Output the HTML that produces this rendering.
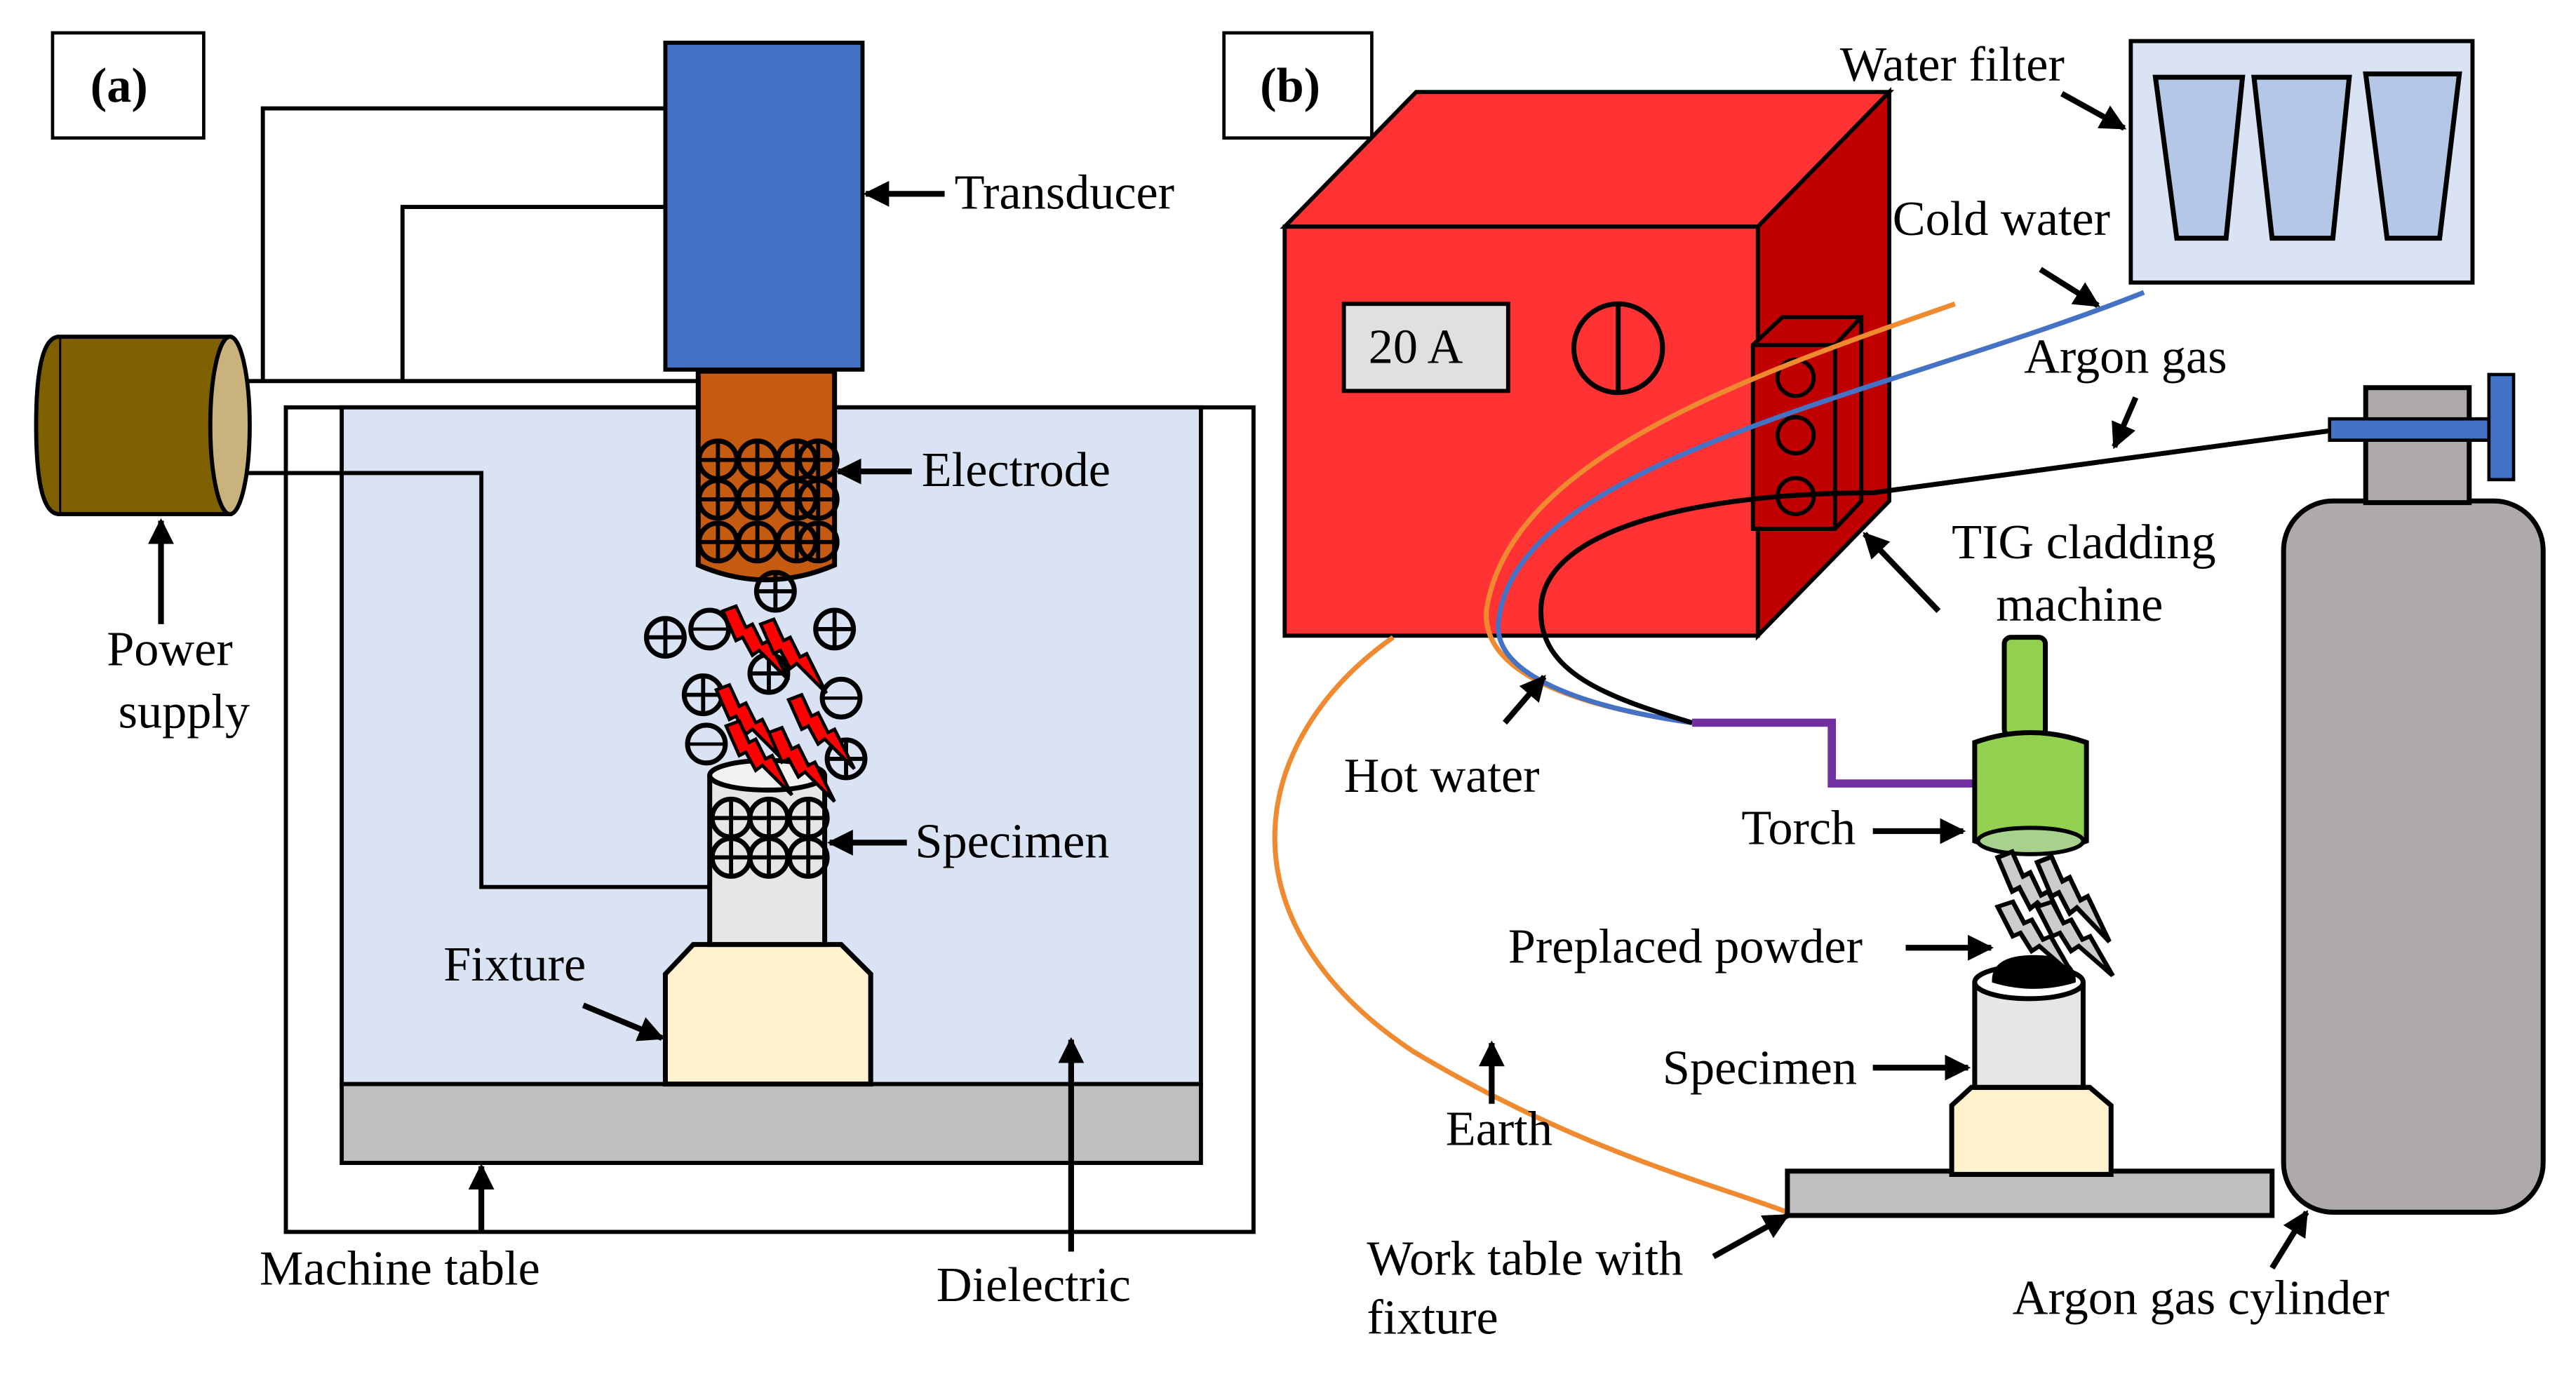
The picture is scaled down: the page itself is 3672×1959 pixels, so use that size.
<!DOCTYPE html>
<html><head><meta charset="utf-8"><style>
html,body{margin:0;padding:0;background:#fff;}
svg{display:block;}
svg text{font-family:"Liberation Serif","DejaVu Serif",serif;}
</style></head><body>
<svg width="3672" height="1959" viewBox="0 0 1568 836.5" xmlns="http://www.w3.org/2000/svg" font-size="30">
<defs>
<marker id="ah" viewBox="0 0 10 10" refX="9" refY="5" markerWidth="4.5" markerHeight="4.5" orient="auto-start-reverse"><path d="M0,0 L10,5 L0,10 z" fill="#000"/></marker>
<g id="pl"><circle r="11.5" fill="none" stroke="#000" stroke-width="3"/><path d="M-11,0H11M0,-11V11" stroke="#000" stroke-width="2.5"/></g>
<g id="mi"><circle r="11.5" fill="none" stroke="#000" stroke-width="3"/><path d="M-11,0H11" stroke="#000" stroke-width="2"/></g>
<g id="bolt"><path d="M0,0 L8,-3 L14,10 L18,8 L24,20 L28,18 L40,42 L22,24 L18,27 L12,16 L8,18 z" fill="#f00" stroke="#000" stroke-width="2"/></g>
<g id="gbolt"><path d="M0,0 L8,-3 L14,10 L18,8 L24,20 L28,18 L40,42 L22,24 L18,27 L12,16 L8,18 z" fill="#ccc" stroke="#000" stroke-width="2.5"/></g>
</defs>
<g stroke="#000" stroke-width="2.5">
<rect x="32" y="20" width="92" height="64" fill="#fff" stroke-width="2"/>
<rect x="174" y="248" width="589" height="502" fill="#fff"/>
<rect x="208" y="248" width="523" height="412" fill="#DAE3F3"/>
<rect x="208" y="660" width="523" height="48" fill="#BFBFBF"/>
<polyline points="160,232 160,66 405,66" fill="none"/>
<polyline points="245,232 245,126 405,126" fill="none"/>
<line x1="148" y1="232" x2="425" y2="232"/>
<polyline points="145,288 293,288 293,540 432,540" fill="none"/>
<rect x="405" y="26" width="120" height="199" fill="#4472C4"/>
<path d="M425,226 H508 V344 Q466,362 425,344 Z" fill="#C55A11" stroke-width="3"/>
<rect x="36" y="205" width="104" height="108" fill="#7F6000"/>
<path d="M36,205 Q22,205 22,259 Q22,313 36,313" fill="#7F6000"/>
<ellipse cx="140" cy="259" rx="12" ry="54" fill="#C9B27C"/>
<polygon points="405,593 422,575 512,575 530,593 530,660 405,660" fill="#FFF2CC" stroke-width="3"/>
<path d="M432,472 V575 H502 V472" fill="#E7E6E6" stroke-width="3"/>
<ellipse cx="467" cy="472" rx="35" ry="9" fill="#F2F2F2" stroke-width="3"/>
</g>
<g>
<use href="#pl" x="437" y="280"/><use href="#pl" x="461" y="280"/><use href="#pl" x="485" y="280"/><use href="#pl" x="498" y="280"/>
<use href="#pl" x="437" y="304"/><use href="#pl" x="461" y="304"/><use href="#pl" x="485" y="304"/><use href="#pl" x="498" y="304"/>
<use href="#pl" x="437" y="330"/><use href="#pl" x="461" y="330"/><use href="#pl" x="485" y="330"/><use href="#pl" x="498" y="330"/>
<use href="#pl" x="472" y="360"/>
<use href="#pl" x="405" y="388"/><use href="#mi" x="432" y="383"/><use href="#pl" x="508" y="383"/>
<use href="#pl" x="468" y="410"/><use href="#pl" x="428" y="423"/><use href="#mi" x="512" y="425"/>
<use href="#mi" x="430" y="453"/><use href="#pl" x="515" y="462"/>
<use href="#bolt" x="440" y="372"/><use href="#bolt" x="463" y="380"/><use href="#bolt" x="436" y="420"/>
<use href="#bolt" x="480" y="426"/><use href="#bolt" x="442" y="442"/><use href="#bolt" x="468" y="446"/>
<use href="#pl" x="445" y="498"/><use href="#pl" x="468" y="498"/><use href="#pl" x="492" y="498"/>
<use href="#pl" x="445" y="522"/><use href="#pl" x="468" y="522"/><use href="#pl" x="492" y="522"/>
</g>
<g stroke="#000" stroke-width="3.5" marker-end="url(#ah)">
<line x1="575" y1="118" x2="527" y2="118"/>
<line x1="555" y1="287" x2="510" y2="287"/>
<line x1="552" y1="513" x2="505" y2="513"/>
<line x1="355" y1="612" x2="403" y2="632"/>
<line x1="98" y1="380" x2="98" y2="317"/>
<line x1="293" y1="750" x2="293" y2="710"/>
<line x1="652" y1="762" x2="652" y2="633"/>
</g>
<text x="55" y="62" font-weight="bold">(a)</text>
<text x="581" y="127">Transducer</text>
<text x="561" y="296">Electrode</text>
<text x="557" y="522">Specimen</text>
<text x="270" y="597">Fixture</text>
<text x="65" y="405">Power</text>
<text x="72" y="443">supply</text>
<text x="158" y="782">Machine table</text>
<text x="570" y="792">Dielectric</text>

<g stroke="#000" stroke-width="2.5">
<rect x="745" y="20" width="90" height="64" fill="#fff" stroke-width="2"/>
<polygon points="782,138 862,56 1150,56 1070,138" fill="#FF3333"/>
<polygon points="1070,138 1150,56 1150,305 1070,387" fill="#C00000"/>
<rect x="782" y="138" width="288" height="249" fill="#FF3333"/>
<rect x="818" y="185" width="100" height="53" fill="#E0E0E0"/>
<circle cx="985" cy="212" r="27" fill="none" stroke-width="3"/>
<line x1="985" y1="185" x2="985" y2="239" stroke-width="3"/>
<polygon points="1067,210 1085,193 1133,193 1133,305 1117,322 1067,322" fill="#C00000"/>
<line x1="1117" y1="210" x2="1117" y2="322"/><line x1="1067" y1="210" x2="1117" y2="210"/><line x1="1117" y1="210" x2="1133" y2="193"/>
<circle cx="1093" cy="230" r="11" fill="none"/><circle cx="1093" cy="265" r="11" fill="none"/><circle cx="1093" cy="302" r="11" fill="none"/>
<rect x="1297" y="25" width="208" height="147" fill="#DAE3F3"/>
<polygon points="1312,47 1365,47 1355,145 1325,145" fill="#B4C7E7" stroke-width="3"/>
<polygon points="1372,47 1430,47 1420,145 1383,145" fill="#B4C7E7" stroke-width="3"/>
<polygon points="1440,45 1497,45 1485,145 1453,145" fill="#B4C7E7" stroke-width="3"/>
</g>
<g fill="none" stroke-width="3">
<path d="M848,388 C760,450 740,560 860,640 C960,700 1040,720 1088,738" stroke="#F08A30"/>
<path d="M1190,185 C1060,230 920,280 905,370 C900,410 960,430 1030,440" stroke="#F08A30"/>
<path d="M1305,178 C1150,240 920,280 912,380 C910,410 960,430 1030,440" stroke="#4472C4"/>
<path d="M1420,262 L1140,300 C1040,300 940,320 938,370 C936,410 980,425 1030,440" stroke="#000"/>
<polyline points="1030,440 1115,440 1115,477 1202,477" stroke="#7030A0" stroke-width="5"/>
</g>
<g stroke="#000" stroke-width="3">
<rect x="1220" y="388" width="25" height="60" rx="4" fill="#92D050"/>
<path d="M1202,452 Q1236,440 1270,452 V512 Q1236,525 1202,512 Z" fill="#92D050"/>
<ellipse cx="1236" cy="512" rx="32" ry="8" fill="#A9D18E" stroke-width="2.5"/>
<rect x="1088" y="713" width="295" height="27" fill="#BFBFBF"/>
<polygon points="1188,673 1200,662 1272,662 1285,673 1285,715 1188,715" fill="#FFF2CC"/>
<path d="M1202,598 V662 H1268 V598" fill="#E7E6E6"/>
<ellipse cx="1235" cy="598" rx="33" ry="10" fill="#fff"/>
<path d="M1214,597 Q1214,583 1238,583 Q1262,583 1262,597 Q1238,604 1214,597 Z" fill="#000"/>
<rect x="1390" y="305" width="158" height="433" rx="30" fill="#AEAAAA"/>
<rect x="1440" y="236" width="63" height="70" fill="#AEAAAA"/>
<rect x="1418" y="255" width="97" height="13" fill="#4472C4" stroke-width="2"/>
<rect x="1515" y="228" width="15" height="64" fill="#4472C4" stroke-width="2"/>
</g>
<use href="#gbolt" transform="translate(1216,522) scale(1.1,1.15)"/><use href="#gbolt" transform="translate(1240,525) scale(1.1,1.15)"/>
<use href="#gbolt" transform="translate(1216,552) scale(1.15,1.0)"/><use href="#gbolt" transform="translate(1240,552) scale(1.15,1.0)"/>
<g stroke="#000" stroke-width="3.5" marker-end="url(#ah)">
<line x1="1255" y1="57" x2="1293" y2="78"/>
<line x1="1242" y1="164" x2="1277" y2="186"/>
<line x1="1300" y1="242" x2="1287" y2="272"/>
<line x1="1180" y1="372" x2="1135" y2="325"/>
<line x1="916" y1="440" x2="940" y2="412"/>
<line x1="1140" y1="506" x2="1195" y2="506"/>
<line x1="1160" y1="577" x2="1212" y2="577"/>
<line x1="1140" y1="650" x2="1198" y2="650"/>
<line x1="908" y1="672" x2="908" y2="635"/>
<line x1="1043" y1="765" x2="1088" y2="740"/>
<line x1="1383" y1="772" x2="1404" y2="738"/>
</g>
<text x="767" y="62" font-weight="bold">(b)</text>
<text x="833" y="221">20 A</text>
<text x="1120" y="49">Water filter</text>
<text x="1152" y="143">Cold water</text>
<text x="1232" y="227">Argon gas</text>
<text x="1188" y="340">TIG cladding</text>
<text x="1215" y="378">machine</text>
<text x="818" y="482">Hot water</text>
<text x="1060" y="514">Torch</text>
<text x="918" y="586">Preplaced powder</text>
<text x="1012" y="660">Specimen</text>
<text x="880" y="697">Earth</text>
<text x="832" y="776">Work table with</text>
<text x="832" y="812">fixture</text>
<text x="1225" y="800">Argon gas cylinder</text>
</svg>
</body></html>
